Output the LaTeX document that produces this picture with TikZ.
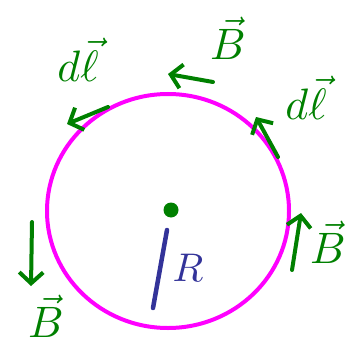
\documentclass[tikz,border=0pt]{standalone}
\usetikzlibrary{arrows.meta}
\definecolor{pen}{RGB}{0,128,0}
\definecolor{ink}{RGB}{51,51,153}
\definecolor{ringcol}{RGB}{255,0,255}
\begin{document}
\begin{tikzpicture}[x=1pt,y=-1pt,
  vec/.style={draw=pen, line width=4pt, line cap=round, line join=round,
    -{Straight Barb[length=11pt,width=24pt,line width=4pt]}},
  lab/.style={text=pen, scale=4.4, inner sep=0pt}]
\useasboundingbox (0,0) rectangle (350,350);
\draw[draw=ringcol, line width=4pt] (168,211) ellipse [x radius=121, y radius=117];
% current through centre
\node[circle, fill=pen, inner sep=0pt, minimum size=15pt] (I) at (171,210) {};
\coordinate (r0) at (167,230);
\coordinate (r1) at (153,308);
\draw[ink, line width=4.5pt, line cap=round] (r0) -- (r1);
\node[text=ink, scale=4, inner sep=0pt] (R) at (188,268) {$R$};
% arrows
\coordinate (a1s) at (213,82);  \coordinate (a1e) at (168,74);
\coordinate (a2s) at (108,107); \coordinate (a2e) at (67,124);
\coordinate (a3s) at (278,157); \coordinate (a3e) at (256,117);
\coordinate (a4s) at (292,270); \coordinate (a4e) at (301,213);
\coordinate (a5s) at (32,222);  \coordinate (a5e) at (31,286);
\draw[vec] (a1s) -- (a1e);
\draw[vec] (a2s) -- (a2e);
\draw[vec] (a3s) -- (a3e);
\draw[vec] (a4s) -- (a4e);
\draw[vec] (a5s) -- (a5e);
% labels
\node[lab] (Btop) at (228,38) {$\vec{B}$};
\node[lab] (dltl) at (78,60) {$d\vec{\ell}$};
\node[lab] (dlr) at (306,98) {$d\vec{\ell}$};
\node[lab] (Br) at (328,242) {$\vec{B}$};
\node[lab] (Bl) at (46,316) {$\vec{B}$};
\end{tikzpicture}
\end{document}
